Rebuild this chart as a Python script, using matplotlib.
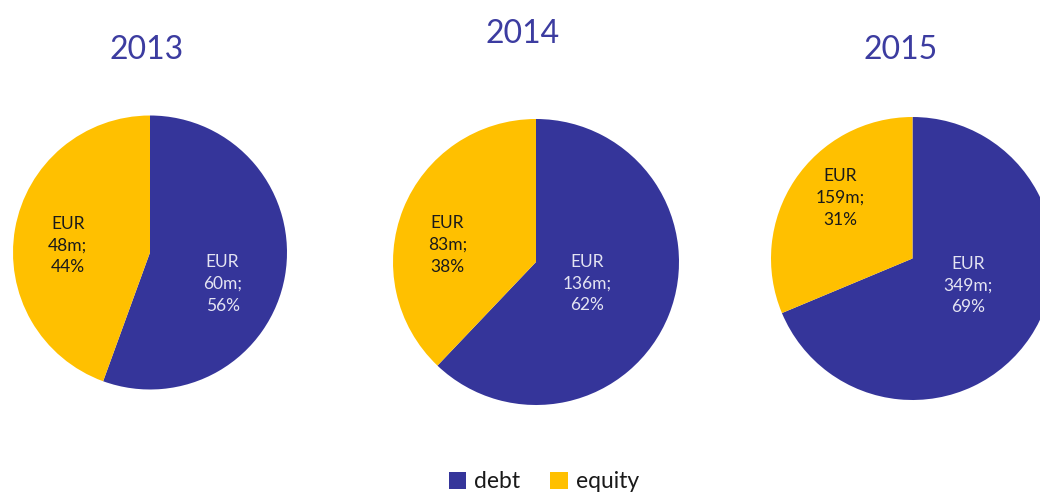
import matplotlib
matplotlib.use("Agg")
import matplotlib.pyplot as plt
from matplotlib.patches import Patch

plt.rcParams['font.family'] = ['Lato', 'DejaVu Sans']

years = ["2013", "2014", "2015"]
categories = ["debt", "equity"]
debt = [60, 136, 349]
equity = [48, 83, 159]
debt_pct = [56, 62, 69]
equity_pct = [44, 38, 31]

DEBT_C = "#35359A"
EQ_C = "#FFC000"
TITLE_C = "#3C3CA0"

W, H = 1040, 493
fig = plt.figure(figsize=(W / 100, H / 100), dpi=100)

# layout (pixels): pie centers, radii, title positions, label offsets (unit radius)
centers = [(150, 252.5), (536, 262), (912.5, 258.5)]
radii = [137, 143, 141.5]
title_pos = [(147, 50), (523, 34), (901, 50)]
debt_lbl = [(0.53, -0.23), (0.36, -0.15), (0.39, -0.19)]
eq_lbl = [(-0.60, 0.05), (-0.62, 0.12), (-0.51, 0.43)]

for i, yr in enumerate(years):
    cx, cy = centers[i]
    r = radii[i]
    ax = fig.add_axes([(cx - r) / W, 1 - (cy + r) / H, 2 * r / W, 2 * r / H])
    ax.pie([debt[i], equity[i]], colors=[DEBT_C, EQ_C], startangle=90,
           counterclock=False, radius=1, wedgeprops=dict(linewidth=0))
    ax.set_xlim(-1, 1)
    ax.set_ylim(-1, 1)
    ax.set_aspect('equal')
    ax.axis('off')
    dx, dy = debt_lbl[i]
    ax.text(dx, dy, f"EUR\n{debt[i]}m;\n{debt_pct[i]}%", ha='center', va='center',
            color="#E4E4F2", fontsize=12.5, linespacing=1.45)
    ex, ey = eq_lbl[i]
    ax.text(ex, ey, f"EUR\n{equity[i]}m;\n{equity_pct[i]}%", ha='center', va='center',
            color="#1A1A1A", fontsize=12.5, linespacing=1.45)
    tx, ty = title_pos[i]
    fig.text(tx / W, 1 - ty / H, yr, ha='center', va='center', color=TITLE_C,
             fontsize=23)

handles = [Patch(facecolor=DEBT_C, edgecolor='none'), Patch(facecolor=EQ_C, edgecolor='none')]
fig.legend(handles, categories, loc='center', bbox_to_anchor=(544 / W, 1 - 482 / H),
           ncol=2, frameon=False, handlelength=0.75, handleheight=0.75,
           handletextpad=0.35, columnspacing=1.3, labelcolor="#1A1A1A",
           prop={'size': 16.5})

fig.savefig("out.png", dpi=100)
